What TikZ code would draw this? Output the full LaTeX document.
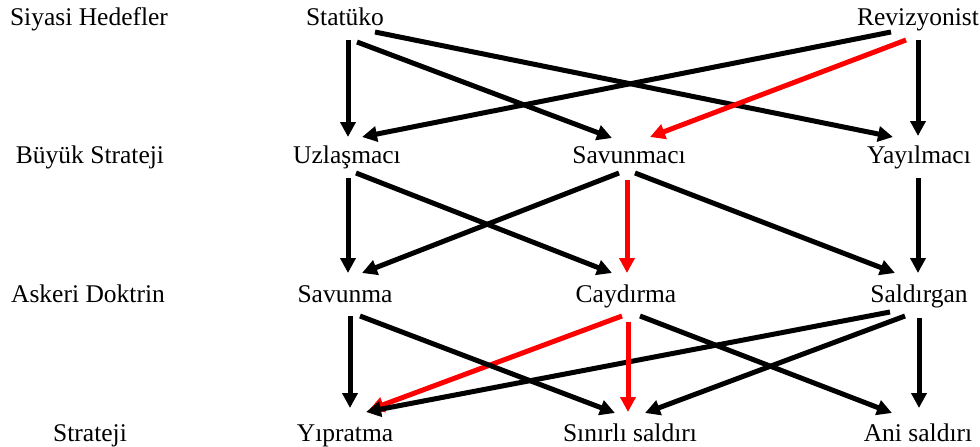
\documentclass[tikz,border=0pt]{standalone}
\usepackage{fontspec}
\setmainfont{Liberation Serif}
\newfontfamily\tnrfont{Liberation Serif}
\newcommand\lblsize{\tnrfont\fontsize{25.5}{30}\selectfont}
\usetikzlibrary{arrows.meta}
\begin{document}
\begin{tikzpicture}[x=1pt,y=-1pt,
  lbl/.style={anchor=base,inner sep=0pt},
  conn/.style={line width=5pt,-{Triangle[length=15pt,width=15pt]}},
  hot/.style={conn,draw=red}]
\useasboundingbox (0,0) rectangle (980,447);
% level labels
\node[lbl] (l1) at (89,25) {\lblsize Siyasi Hedefler};
\node[lbl] (l2) at (90,163) {\lblsize Büyük Strateji};
\node[lbl] (l3) at (88,302) {\lblsize Askeri Doktrin};
\node[lbl] (l4) at (90,441) {\lblsize Strateji};
% row 1
\node[lbl] (stat) at (345,25) {\lblsize Statüko};
\node[lbl] (rev) at (918,25) {\lblsize Revizyonist};
% row 2
\node[lbl] (uz) at (347,163) {\lblsize Uzlaşmacı};
\node[lbl] (savc) at (629,163) {\lblsize Savunmacı};
\node[lbl] (yay) at (919,163) {\lblsize Yayılmacı};
% row 3
\node[lbl] (savn) at (345,302) {\lblsize Savunma};
\node[lbl] (cay) at (626,302) {\lblsize Caydırma};
\node[lbl] (sald) at (919,302) {\lblsize Saldırgan};
% row 4
\node[lbl] (yip) at (345,441) {\lblsize Yıpratma};
\node[lbl] (sin) at (630,441) {\lblsize Sınırlı saldırı};
\node[lbl] (ani) at (918,441) {\lblsize Ani saldırı};
% row 1 -> row 2
\draw[conn] ([shift={(3,15)}]stat.base) -- ([shift={(1,-26)}]uz.base);
\draw[conn] ([shift={(12,17)}]stat.base) -- ([shift={(-17,-25)}]savc.base);
\draw[conn] ([shift={(30,7)}]stat.base) -- ([shift={(-26,-26)}]yay.base);
\draw[conn] ([shift={(-27,7)}]rev.base) -- ([shift={(15,-26)}]uz.base);
\draw[hot] ([shift={(-12,15)}]rev.base) -- ([shift={(21,-26)}]savc.base);
\draw[conn] ([shift={(0,15)}]rev.base) -- ([shift={(-1,-27)}]yay.base);
% row 2 -> row 3
\draw[conn] ([shift={(1,15)}]uz.base) -- ([shift={(3,-29)}]savn.base);
\draw[conn] ([shift={(9,10)}]uz.base) -- ([shift={(-14,-29)}]cay.base);
\draw[conn] ([shift={(-10,10)}]savc.base) -- ([shift={(17,-29)}]savn.base);
\draw[hot] ([shift={(-2,17)}]savc.base) -- ([shift={(1,-29)}]cay.base);
\draw[conn] ([shift={(6,10)}]savc.base) -- ([shift={(-24,-29)}]sald.base);
\draw[conn] ([shift={(-1,15)}]yay.base) -- ([shift={(-1,-29)}]sald.base);
% row 3 -> row 4
\draw[hot] ([shift={(-4,14)}]cay.base) -- ([shift={(24,-31)}]yip.base);
\draw[conn] ([shift={(5,14)}]savn.base) -- ([shift={(5,-33)}]yip.base);
\draw[conn] ([shift={(15,14)}]savn.base) -- ([shift={(-15,-28)}]sin.base);
\draw[conn] ([shift={(-29,10)}]sald.base) -- ([shift={(21,-29)}]yip.base);
\draw[hot] ([shift={(2,20)}]cay.base) -- ([shift={(-2,-29)}]sin.base);
\draw[conn] ([shift={(14,14)}]cay.base) -- ([shift={(-26,-28)}]ani.base);
\draw[conn] ([shift={(-14,14)}]sald.base) -- ([shift={(15,-28)}]sin.base);
\draw[conn] ([shift={(0,16)}]sald.base) -- ([shift={(1,-33)}]ani.base);
\end{tikzpicture}
\end{document}
